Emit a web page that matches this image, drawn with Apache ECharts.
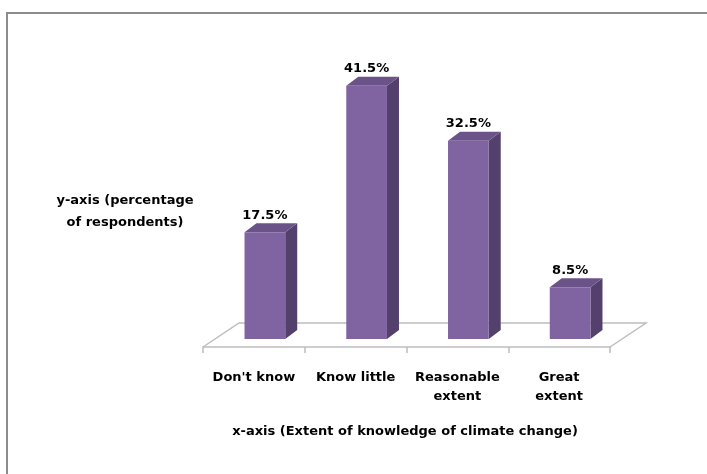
<!DOCTYPE html>
<html>
<head>
<meta charset="utf-8">
<script src="https://cdn.jsdelivr.net/npm/echarts@6/dist/echarts.min.js"></script>
<style>
html,body{margin:0;padding:0;background:#fff;}
#chart{width:707px;height:474px;}
</style>
</head>
<body>
<div id="chart"></div>
<script>
var categories = ["Don't know", "Know little", "Reasonable\nextent", "Great\nextent"];
var values = [17.5, 41.5, 32.5, 8.5];
var valueLabels = ["17.5%", "41.5%", "32.5%", "8.5%"];
var xTitle = "x-axis (Extent of knowledge of climate change)";
var yTitle = "y-axis (percentage\nof respondents)";

var FONT = '"DejaVu Sans", Verdana, sans-serif';
var chart = echarts.init(document.getElementById('chart'), null, {renderer: 'canvas'});

var OFF_X = 11, OFF_Y = -8;      // bar position on the floor (middle depth)
var DEP_X = 12, DEP_Y = -9;      // bar depth
var FLOOR_X = 36, FLOOR_Y = -24; // floor depth

function renderBar(params, api) {
  var i = api.value(0), v = api.value(1);
  var base = api.coord([i, 0]);
  var top = api.coord([i, v]);
  var w = api.size([1, 0])[0] * 0.4;
  var cx = base[0] + OFF_X;
  var x0 = cx - w / 2, x1 = cx + w / 2;
  var yb = base[1] + OFF_Y, yt = top[1] + OFF_Y;
  return {
    type: 'group',
    children: [
      {type: 'polygon', shape: {points: [[x1, yb], [x1 + DEP_X, yb + DEP_Y], [x1 + DEP_X, yt + DEP_Y], [x1, yt]]},
       style: {fill: '#54406D'}},
      {type: 'polygon', shape: {points: [[x0, yt], [x1, yt], [x1 + DEP_X, yt + DEP_Y], [x0 + DEP_X, yt + DEP_Y]]},
       style: {fill: '#6B5389'}},
      {type: 'rect', shape: {x: x0, y: yt, width: w, height: yb - yt},
       style: {fill: '#8064A2'}},
      {type: 'text', style: {text: valueLabels[params.dataIndex], x: cx, y: yt + DEP_Y - 8,
        textAlign: 'center', textVerticalAlign: 'middle', verticalAlign: 'middle',
        font: 'bold 13px ' + FONT, fill: '#000'}}
    ]
  };
}

function renderFloor(params, api) {
  var c0 = api.coord([0, 0]);
  var cw = api.size([1, 0])[0];
  var n = categories.length;
  var xl = c0[0] - cw / 2, xr = xl + cw * n, y = c0[1];
  return {
    type: 'polyline',
    shape: {points: [[xl, y], [xl + FLOOR_X, y + FLOOR_Y], [xr + FLOOR_X, y + FLOOR_Y], [xr, y]]},
    style: {stroke: '#BDBDBD', lineWidth: 1.5, fill: null}
  };
}

chart.setOption({
  animation: false,
  backgroundColor: '#fff',
  grid: {left: 203, right: 97, top: 42, bottom: 127},
  xAxis: {
    type: 'category',
    data: categories,
    boundaryGap: true,
    axisLine: {show: true, lineStyle: {color: '#BDBDBD', width: 1.5}},
    axisTick: {show: true, length: 6, lineStyle: {color: '#BDBDBD', width: 1.5}},
    axisLabel: {margin: 21, color: '#000', fontFamily: FONT, fontWeight: 'bold', fontSize: 13, lineHeight: 19, interval: 0}
  },
  yAxis: {
    type: 'value', min: 0, max: 50, show: false
  },
  series: [
    {type: 'custom', renderItem: renderFloor, data: [[0, 0]], z: 1, silent: true},
    {type: 'custom', renderItem: renderBar, data: values.map(function (v, i) { return [i, v]; }), z: 2}
  ],
  graphic: [
    {type: 'polyline', shape: {points: [[7, 474], [7, 13], [707, 13]]},
     style: {stroke: '#8C8C8C', lineWidth: 2, fill: null}},
    {type: 'text', x: 125, y: 212, style: {text: yTitle, textAlign: 'center', textVerticalAlign: 'middle', verticalAlign: 'middle',
      font: 'bold 13px ' + FONT, lineHeight: 22, fill: '#000'}},
    {type: 'text', x: 405, y: 432, style: {text: xTitle, textAlign: 'center', textVerticalAlign: 'middle', verticalAlign: 'middle',
      font: 'bold 13px ' + FONT, fill: '#000'}}
  ]
});
</script>
</body>
</html>
